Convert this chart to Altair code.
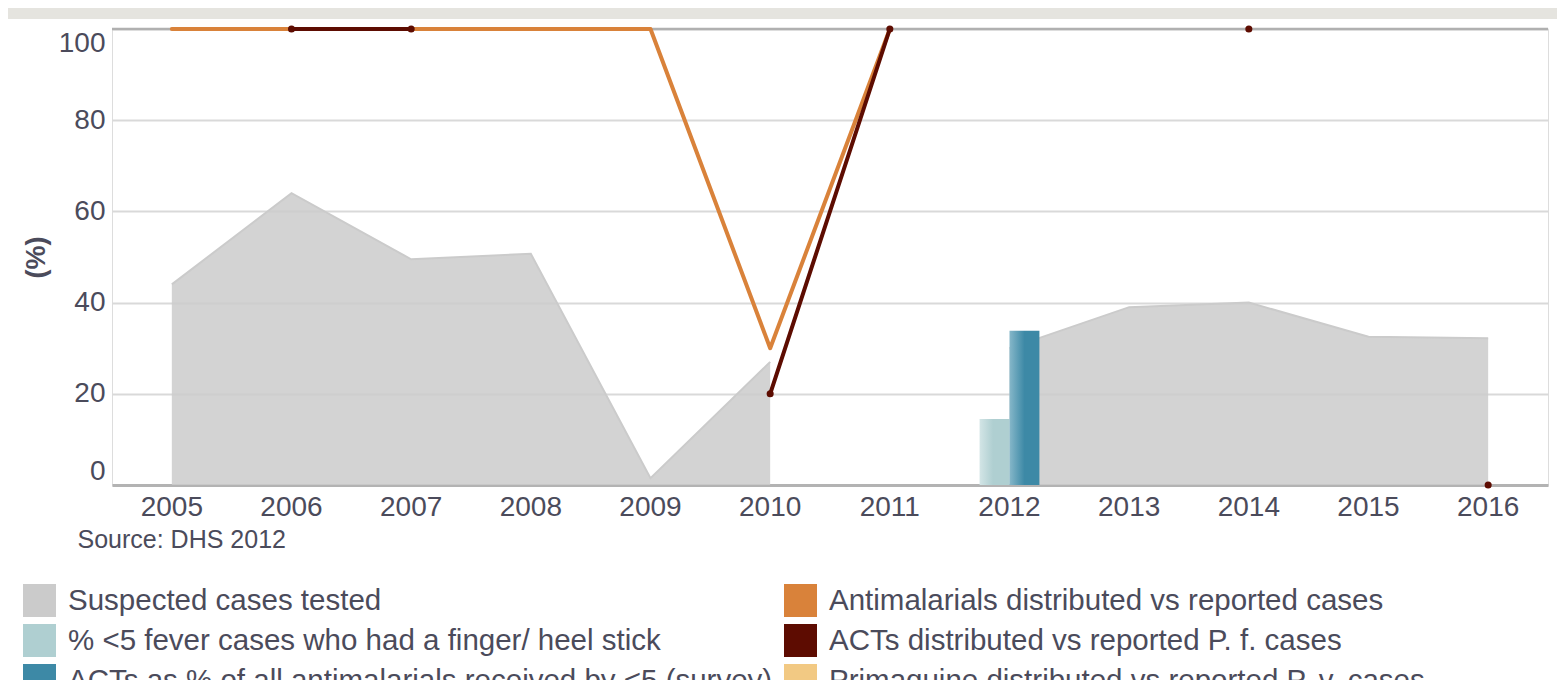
import altair as alt
import pandas as pd

years = [str(y) for y in range(2005, 2017)]
suspected_tested = [44, 64, 49.5, 50.7, 1.5, 27, None, 30, 39, 40, 32.5, 32.2]
antimalarials_vs_reported = [100, 100, 100, 100, 100, 30, 100, None, None, None, None, None]
acts_vs_pf = [None, 100, 100, None, None, 20, 100, None, None, 100, None, 0]

bar_years = ["2012", "2012"]
bar_series = [
    "% <5 fever cases who had a finger/ heel stick",
    "ACTs as % of all antimalarials received by <5 (survey)",
]
bar_values = [14.5, 33.8]

series_names = [
    "Suspected cases tested",
    "% <5 fever cases who had a finger/ heel stick",
    "ACTs as % of all antimalarials received by <5 (survey)",
    "Antimalarials distributed vs reported cases",
    "ACTs distributed vs reported P. f. cases",
    "Primaquine distributed vs reported P. v. cases",
]
series_colors = ["#cbcbcb", "#afcfd1", "#3d89a6", "#d9823a", "#5d0c01", "#f2c983"]

FONT = "Liberation Sans"
TXT = "#4b4b5b"

area_df = pd.DataFrame({"year": years, "value": suspected_tested, "series": series_names[0]})
orange_df = pd.DataFrame({"year": years, "value": antimalarials_vs_reported, "series": series_names[3]})
red_df = pd.DataFrame({"year": years, "value": acts_vs_pf, "series": series_names[4]})
bar_df = pd.DataFrame({"year": bar_years, "value": bar_values, "series": bar_series})

x_enc = alt.X(
    "year:O",
    scale=alt.Scale(domain=years, paddingInner=0, paddingOuter=0),
    axis=alt.Axis(
        title="Source: DHS 2012",
        titleX=-35, titleY=54, titleAlign="left", titleBaseline="middle",
        titleFontSize=25, titleFontWeight="normal", titleColor=TXT, titleFont=FONT,
        labelFontSize=28, labelColor=TXT, labelFont=FONT, labelPadding=8,
        ticks=False, domainColor="#b3b3b3", domainWidth=3, grid=False, labelAngle=0,
    ),
)
y_enc = alt.Y(
    "value:Q",
    scale=alt.Scale(domain=[0, 100], nice=False),
    axis=alt.Axis(
        values=[0, 20, 40, 60, 80, 100], title="(%)",
        titleFontSize=27, titleFontWeight="bold", titleColor=TXT, titleFont=FONT,
        titleX=-76, titleBaseline="middle",
        labelFontSize=28, labelColor=TXT, labelFont=FONT, labelPadding=7,
        labelFlush=True, ticks=False, domain=False,
        grid=True, gridColor="#d9d9d9", gridWidth=2,
    ),
)
color_scale = alt.Scale(domain=series_names, range=series_colors)

legend = alt.Legend(
    orient="none", legendX=-89, legendY=555, columns=2, columnPadding=11, rowPadding=7,
    symbolType="square", symbolSize=1089, symbolStrokeWidth=0, symbolOpacity=1,
    labelFontSize=29.5, labelFont=FONT, labelColor=TXT, labelOffset=12, labelLimit=900,
    title=None, direction="vertical",
)

band = alt.Chart(alt.Data(values=[{"k": 1}])).mark_rect(color="#e5e4df").encode(
    x=alt.value(-104), x2=alt.value(1445), y=alt.value(-21), y2=alt.value(-10)
)

area = alt.Chart(area_df).mark_area(opacity=0.85, line={"strokeWidth": 2}).encode(
    x=x_enc, y=y_enc,
    color=alt.Color("series:N", scale=color_scale, legend=legend),
)

xoff = alt.XOffset("series:N", scale=alt.Scale(domain=bar_series, paddingOuter=1, paddingInner=0))

light_grad = alt.LinearGradient(
    gradient="linear", x1=0, x2=1, y1=0, y2=0,
    stops=[alt.GradientStop(offset=0, color="#d3e5e6"), alt.GradientStop(offset=0.45, color="#afcfd1"),
           alt.GradientStop(offset=1, color="#afcfd1")],
)
dark_grad = alt.LinearGradient(
    gradient="linear", x1=0, x2=1, y1=0, y2=0,
    stops=[alt.GradientStop(offset=0, color="#86b7c9"), alt.GradientStop(offset=0.5, color="#3d89a6"),
           alt.GradientStop(offset=1, color="#3d89a6")],
)

bar_light = alt.Chart(bar_df).mark_bar(fill=light_grad).encode(
    x=x_enc, y=y_enc, xOffset=xoff,
).transform_filter(alt.datum.series == bar_series[0])
bar_dark = alt.Chart(bar_df).mark_bar(fill=dark_grad).encode(
    x=x_enc, y=y_enc, xOffset=xoff,
).transform_filter(alt.datum.series == bar_series[1])

top_rule = alt.Chart(alt.Data(values=[{"k": 1}])).mark_rule(color="#b0b0b0", strokeWidth=2.5).encode(
    y=alt.datum(100)
)

orange = alt.Chart(orange_df).mark_line(strokeWidth=4, strokeCap="round", strokeJoin="round").encode(
    x=x_enc, y=y_enc,
    color=alt.Color("series:N", scale=color_scale, legend=None),
)

red = alt.Chart(red_df).mark_line(strokeWidth=4, strokeCap="round", strokeJoin="round").encode(
    x=x_enc, y=y_enc,
    color=alt.Color("series:N", scale=color_scale, legend=None),
)
red_pts = alt.Chart(red_df).mark_circle(size=50, opacity=1).encode(
    x=x_enc, y=y_enc,
    color=alt.Color("series:N", scale=color_scale, legend=None),
).transform_filter("isValid(datum.value)")

chart = alt.layer(band, area, bar_light, bar_dark, top_rule, orange, red, red_pts).properties(
    width=1436, height=456,
    padding={"left": 104, "top": 21, "right": 9, "bottom": 195},
    autosize=alt.AutoSizeParams(type="none"),
).configure_view(stroke=None).configure(background="white")

chart.save("out.html", embed_options={"renderer": "svg", "actions": False})
